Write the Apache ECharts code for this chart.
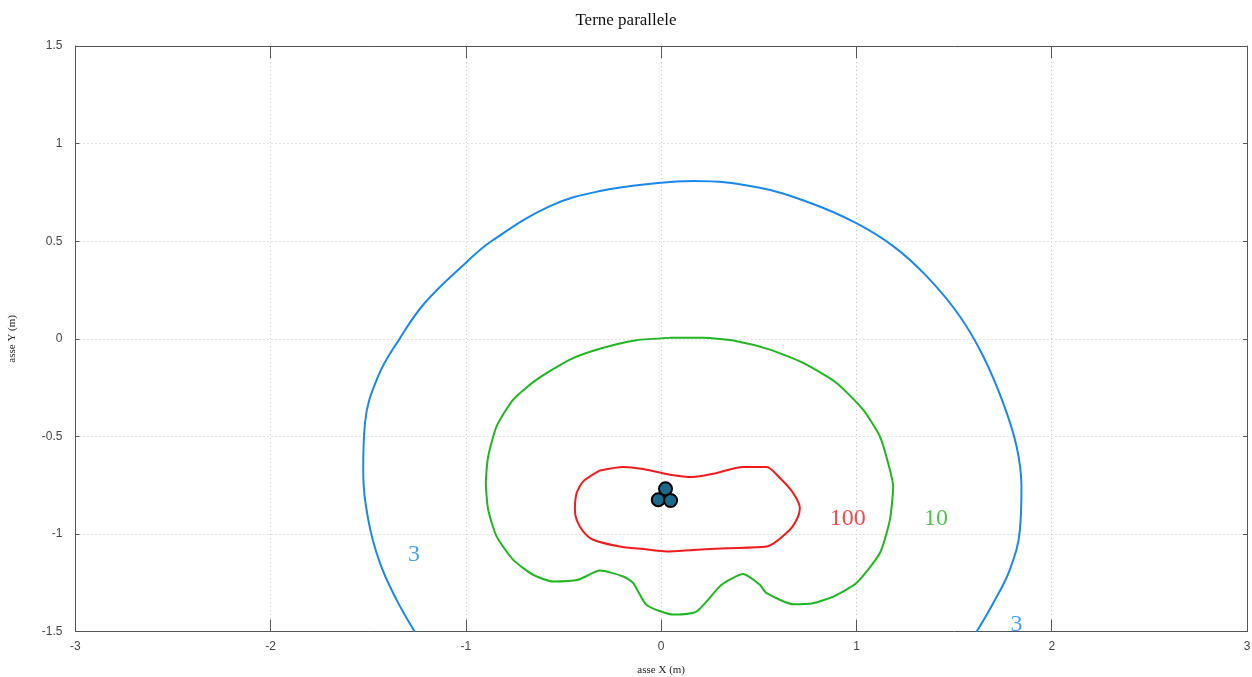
<!DOCTYPE html>
<html>
<head>
<meta charset="utf-8">
<script src="https://cdn.jsdelivr.net/npm/echarts@6/dist/echarts.min.js"></script>
<style>html,body{margin:0;padding:0;background:#fff}#c{width:1252px;height:677px}</style>
</head>
<body>
<div id="c"></div>
<script>
const xTicks = [-3, -2, -1, 0, 1, 2, 3];
const yTicks = [-1.5, -1, -0.5, 0, 0.5, 1, 1.5];

const contour3 = [
  [-1.262,-1.5],[-1.355,-1.337],[-1.440,-1.149],[-1.500,-0.927],[-1.526,-0.670],[-1.517,-0.431],
  [-1.450,-0.192],[-1.340,0.0],[-1.210,0.185],[-1.0,0.39],[-0.870,0.5],[-0.570,0.680],
  [-0.314,0.757],[0.0,0.800],[0.164,0.808],[0.505,0.774],[0.761,0.697],[0.994,0.595],
  [1.188,0.475],[1.359,0.321],[1.529,0.116],[1.649,-0.089],[1.751,-0.328],[1.820,-0.551],
  [1.845,-0.756],[1.837,-0.978],[1.785,-1.183],[1.700,-1.354],[1.615,-1.5]
];
const contour10 = [
  [0.045,0.005],[0.215,0.005],[0.386,-0.012],[0.557,-0.055],[0.727,-0.123],[0.898,-0.226],
  [1.034,-0.363],[1.120,-0.5],[1.162,-0.636],[1.188,-0.756],[1.171,-0.927],[1.120,-1.097],
  [1.000,-1.251],[0.881,-1.320],[0.778,-1.354],[0.676,-1.359],[0.540,-1.303],[0.505,-1.260],
  [0.420,-1.205],[0.309,-1.260],[0.181,-1.397],[0.062,-1.412],[-0.075,-1.363],[-0.143,-1.251],
  [-0.194,-1.217],[-0.314,-1.187],[-0.425,-1.234],[-0.553,-1.243],[-0.655,-1.209],[-0.758,-1.132],
  [-0.843,-1.012],[-0.886,-0.875],[-0.898,-0.738],[-0.886,-0.602],[-0.843,-0.448],[-0.758,-0.311],
  [-0.638,-0.209],[-0.467,-0.106],[-0.297,-0.046],[-0.126,-0.007],[0.045,0.005]
];
const contour100 = [
  [-0.314,-0.674],[-0.195,-0.656],[-0.092,-0.667],[0.045,-0.696],[0.164,-0.708],[0.266,-0.691],
  [0.420,-0.656],[0.540,-0.656],[0.608,-0.713],[0.676,-0.790],[0.710,-0.867],[0.701,-0.910],
  [0.659,-0.978],[0.540,-1.064],[0.335,-1.072],[0.164,-1.081],[0.028,-1.089],[-0.092,-1.077],
  [-0.211,-1.064],[-0.348,-1.029],[-0.399,-0.987],[-0.433,-0.927],[-0.442,-0.876],[-0.433,-0.790],
  [-0.399,-0.730],[-0.314,-0.674]
];
const conductors = [[0.022,-0.768],[-0.015,-0.824],[0.048,-0.828]];
const labels100 = [[0.955,-0.921,'100']];
const labels10 = [[1.407,-0.921,'10']];
const labels3 = [[-1.266,-1.106,'3'],[1.819,-1.465,'3']];

const BLUE = '#1a87ee', GREEN = '#22b522', RED = '#f01c1c';
const serif = 'Liberation Serif, Times New Roman, serif';

function labelSeries(data, color) {
  return {
    type: 'scatter', data: data, symbolSize: 0, silent: true, z: 5,
    label: { show: true, position: 'inside', formatter: p => p.data[2],
      color: color, fontFamily: serif, fontSize: 24 }
  };
}
function lineSeries(data, color, smooth) {
  return { type: 'line', data: data, showSymbol: false, smooth: smooth, silent: true,
    lineStyle: { color: color, width: 2 }, z: 3, clip: true };
}
const frameLine = { show: true, onZero: false, lineStyle: { color: '#555', width: 1 } };

const chart = echarts.init(document.getElementById('c'), null, { renderer: 'canvas' });
chart.setOption({
  animation: false,
  backgroundColor: '#fff',
  title: { text: 'Terne parallele', left: 'center', top: 7,
    textStyle: { fontFamily: serif, fontSize: 17, fontWeight: 'normal', color: '#111' } },
  grid: { left: 75.4, right: 5, top: 46, bottom: 45.3, show: false,
    containLabel: false, outerBoundsMode: 'none' },
  xAxis: [{
    type: 'value', min: xTicks[0], max: xTicks[xTicks.length-1], interval: 1,
    name: 'asse X (m)', nameLocation: 'middle', nameGap: 33,
    nameTextStyle: { fontFamily: serif, fontSize: 11, color: '#222' },
    axisLine: frameLine,
    axisTick: { show: true, inside: true, length: 12, lineStyle: { color: '#555' } },
    axisLabel: { fontFamily: 'Liberation Sans, Arial, sans-serif', fontSize: 12, color: '#444', margin: 9 },
    splitLine: { show: true, lineStyle: { color: '#c8c8c8', type: [1, 3] } }
  }, {
    type: 'value', position: 'top', min: xTicks[0], max: xTicks[xTicks.length-1], interval: 1,
    axisLine: frameLine,
    axisTick: { show: true, inside: true, length: 12, lineStyle: { color: '#555' } },
    axisLabel: { show: false }, splitLine: { show: false }
  }],
  yAxis: [{
    type: 'value', min: yTicks[0], max: yTicks[yTicks.length-1], interval: 0.5,
    name: 'asse Y (m)', nameLocation: 'middle', nameGap: 58, nameRotate: 90,
    nameTextStyle: { fontFamily: serif, fontSize: 11, color: '#222' },
    axisLine: frameLine,
    axisTick: { show: true, inside: true, length: 4, lineStyle: { color: '#555' } },
    axisLabel: { fontFamily: 'Liberation Sans, Arial, sans-serif', fontSize: 12, color: '#444', margin: 13 },
    splitLine: { show: true, lineStyle: { color: '#c8c8c8', type: [1, 3] } }
  }, {
    type: 'value', position: 'right', min: yTicks[0], max: yTicks[yTicks.length-1], interval: 0.5,
    axisLine: frameLine,
    axisTick: { show: true, inside: true, length: 4, lineStyle: { color: '#555' } },
    axisLabel: { show: false }, splitLine: { show: false }
  }],
  series: [
    lineSeries(contour3, BLUE, 0.4),
    lineSeries(contour10, GREEN, 0.2),
    lineSeries(contour100, RED, 0.25),
    { type: 'scatter', data: conductors, symbolSize: 13, z: 6, silent: true,
      itemStyle: { color: '#1b6a8c', borderColor: '#000', borderWidth: 2, opacity: 1 } },
    labelSeries(labels100, RED),
    labelSeries(labels10, GREEN),
    labelSeries(labels3, BLUE)
  ]
});
</script>
</body>
</html>
